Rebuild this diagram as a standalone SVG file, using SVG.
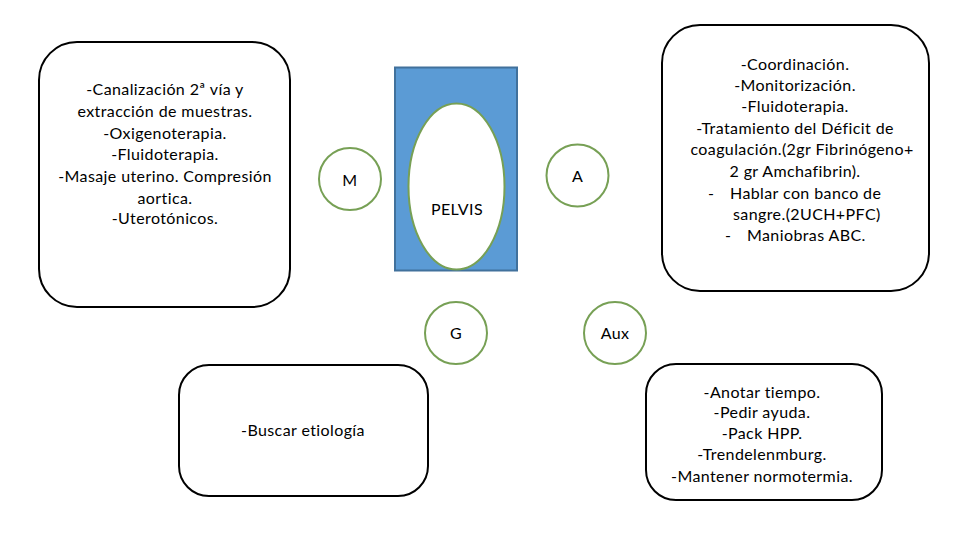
<svg xmlns="http://www.w3.org/2000/svg" width="960" height="540" viewBox="0 0 960 540">
<style>
.box{fill:#fff;stroke:#000;stroke-width:2}
.circ{fill:#fff;stroke:#77A055;stroke-width:2}
text{font-family:Lato,"Open Sans","Liberation Sans",sans-serif;font-size:16px;letter-spacing:0.4px;fill:#000;text-anchor:middle}
text.st{text-anchor:start}
</style>
<rect width="960" height="540" fill="#fff"/>
<g id="box-m">
<rect class="box" x="39" y="42" width="251" height="265" rx="38"/>
<text x="165" y="95">-Canalización 2ª vía y</text>
<text x="165" y="117">extracción de muestras.</text>
<text x="165" y="139">-Oxigenoterapia.</text>
<text x="165" y="160">-Fluidoterapia.</text>
<text x="165" y="182">-Masaje uterino. Compresión</text>
<text x="165" y="204">aortica.</text>
<text x="165" y="224">-Uterotónicos.</text>
</g>
<g id="box-a">
<rect class="box" x="662" y="25" width="267" height="266" rx="38"/>
<text x="795" y="70">-Coordinación.</text>
<text x="795" y="91">-Monitorización.</text>
<text x="795" y="112">-Fluidoterapia.</text>
<text x="795" y="134">-Tratamiento del Déficit de</text>
<text x="802" y="155">coagulación.(2gr Fibrinógeno+</text>
<text x="795" y="177">2 gr Amchafibrin).</text>
<text class="st" x="708" y="199">-</text>
<text class="st" x="730" y="199">Hablar con banco de</text>
<text class="st" x="733" y="220">sangre.(2UCH+PFC)</text>
<text class="st" x="725" y="241">-</text>
<text class="st" x="747" y="241">Maniobras ABC.</text>
</g>
<g id="box-g">
<rect class="box" x="179" y="365" width="249" height="131" rx="30"/>
<text x="303" y="436">-Buscar etiología</text>
</g>
<g id="box-aux">
<rect class="box" x="646" y="364" width="236" height="136" rx="30"/>
<text x="762" y="398">-Anotar tiempo.</text>
<text x="762" y="418">-Pedir ayuda.</text>
<text x="762" y="439">-Pack HPP.</text>
<text x="762" y="460">-Trendelenmburg.</text>
<text x="762" y="482">-Mantener normotermia.</text>
</g>
<g id="pelvis">
<rect x="395" y="67.5" width="122" height="203" fill="#5B9BD5" stroke="#41719C" stroke-width="2"/>
<ellipse cx="456.5" cy="186.5" rx="48" ry="83" fill="#fff" stroke="#77A055" stroke-width="2"/>
<text x="457" y="215">PELVIS</text>
</g>
<g id="node-m">
<circle class="circ" cx="350" cy="179" r="31"/>
<text x="350" y="186">M</text>
</g>
<g id="node-a">
<circle class="circ" cx="577.5" cy="175.5" r="31"/>
<text x="577.5" y="182">A</text>
</g>
<g id="node-g">
<circle class="circ" cx="456" cy="333" r="31"/>
<text x="456" y="339">G</text>
</g>
<g id="node-aux">
<circle class="circ" cx="615" cy="333" r="31"/>
<text x="615" y="339">Aux</text>
</g>
<g id="connectors"></g>
</svg>
